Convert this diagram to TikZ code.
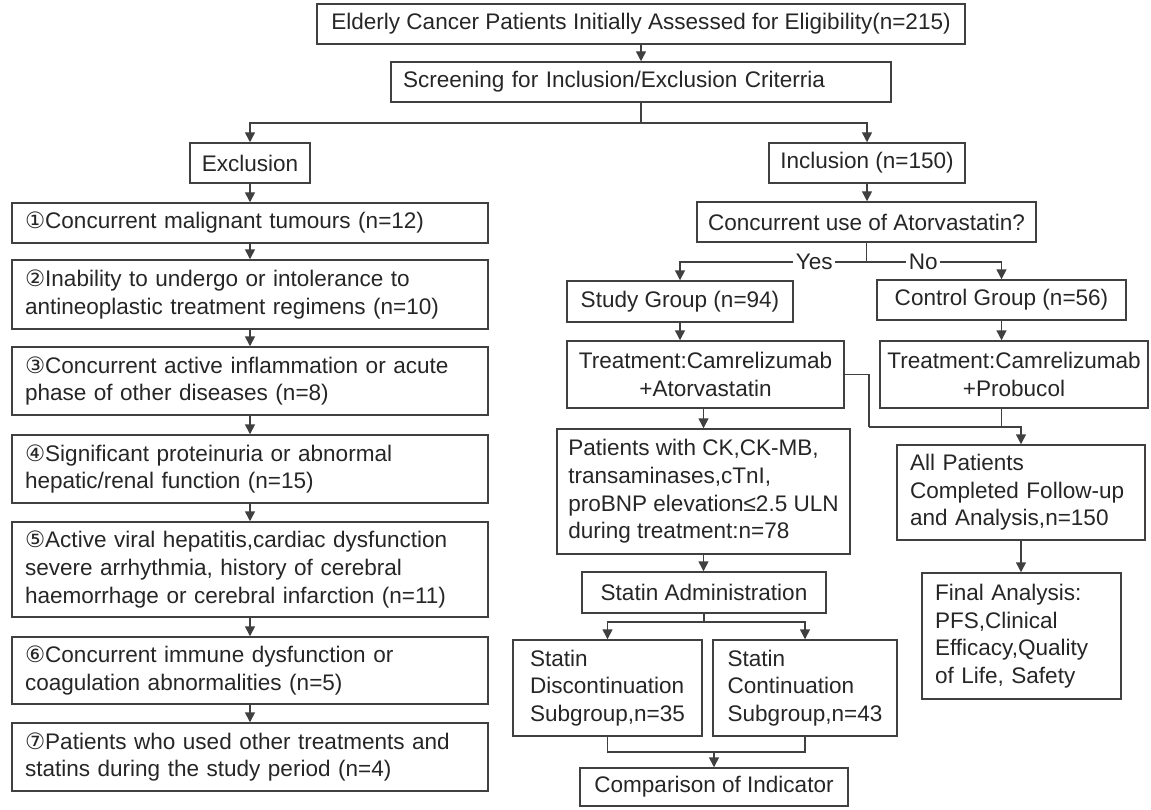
\documentclass[tikz,border=0pt]{standalone}
\usepackage{fontspec}
\setmainfont{Liberation Sans}
\newfontfamily\circfont{DejaVu Sans}
\usetikzlibrary{arrows.meta}
\newdimen\px \px=0.75pt
\newcommand{\ff}{\fontsize{16.9}{20.7}\selectfont}
\newcommand{\cn}[1]{{\circfont #1}}
\tikzstyle{box}=[draw=black!75,line width=1.1pt,inner sep=0pt,align=center,font=\ff,text=black!85]
\tikzstyle{lbox}=[box,align=left]
\tikzstyle{edge}=[draw=black!75,line width=1.1pt,-{Triangle[width=7.5pt,length=7.5pt]}]
\tikzstyle{line}=[draw=black!75,line width=1.1pt]
\tikzstyle{lbl}=[fill=white,inner sep=2pt,font=\ff,text=black!85]
\begin{document}
\begin{tikzpicture}[x=0.75pt,y=-0.75pt]
\useasboundingbox (0,0) rectangle (1151,809);
\fill[white] (0,0) rectangle (1151,809);

% top
\node[box,minimum width=648\px,minimum height=40\px] (elig) at (641,24) {Elderly Cancer Patients Initially Assessed for Eligibility(n=215)};
\node[lbox,text width=476\px,minimum width=500\px,minimum height=40\px] (screen) at (641,82) {Screening for Inclusion/Exclusion Criterria};
\draw[edge] (elig) -- (screen);

\node[box,minimum width=120\px,minimum height=40\px] (excl) at (250,163) {Exclusion};
\node[box,minimum width=196\px,minimum height=40\px] (incl) at (867,163) {Inclusion (n=150)};
\coordinate (split) at (641,123);
\draw[line] (screen) -- (split);
\draw[edge] (split) -| (excl);
\draw[edge] (split) -| (incl);

% exclusion list
\foreach \y/\h/\name/\txt in {
  223/40/ex1/{\cn{①}Concurrent malignant tumours (n=12)},
  294.5/69/ex2/{\cn{②}Inability to undergo or intolerance to\\antineoplastic treatment regimens (n=10)},
  381/68/ex3/{\cn{③}Concurrent active inflammation or acute\\phase of other diseases (n=8)},
  469/68/ex4/{\cn{④}Significant proteinuria or abnormal\\hepatic/renal function (n=15)},
  569.5/95/ex5/{\cn{⑤}Active viral hepatitis,cardiac dysfunction\\severe arrhythmia, history of cerebral\\haemorrhage or cerebral infarction (n=11)},
  670.5/67/ex6/{\cn{⑥}Concurrent immune dysfunction or\\coagulation abnormalities (n=5)},
  757/68/ex7/{\cn{⑦}Patients who used other treatments and\\statins during the study period (n=4)}}
  \node[lbox,text width=450\px,minimum width=476\px,minimum height=\h\px] (\name) at (250,\y) {\txt};

\foreach \a/\b in {excl/ex1, ex1/ex2, ex2/ex3, ex3/ex4, ex4/ex5, ex5/ex6, ex6/ex7}
  \draw[edge] (\a) -- (\b);

% inclusion branch
\node[box,minimum width=339\px,minimum height=40\px] (conc) at (866.5,222) {Concurrent use of Atorvastatin?};
\draw[edge] (incl) -- (incl |- conc.north);

\node[box,minimum width=226\px,minimum height=41\px] (study) at (680,301.5) {Study Group (n=94)};
\node[box,minimum width=249\px,minimum height=40\px] (ctrl) at (1001.5,300) {Control Group (n=56)};
\coordinate (yn) at (866.5,262);
\draw[line] (conc) -- (yn);
\draw[edge] (yn) -| node[lbl,pos=0.14] (yes) {Yes} (study);
\draw[edge] (yn) -| node[lbl,pos=0.21] (no) {No} (ctrl);

\node[box,minimum width=277\px,minimum height=67\px] (trtS) at (705.5,374.5) {Treatment:Camrelizumab\\+Atorvastatin};
\node[box,minimum width=268\px,minimum height=67\px] (trtC) at (1014,374.5) {Treatment:Camrelizumab\\+Probucol};
\draw[edge] (study) -- (study |- trtS.north);
\draw[edge] (ctrl) -- (ctrl |- trtC.north);

\node[lbox,minimum width=293\px,minimum height=125\px] (ck) at (703.5,491.5) {Patients with CK,CK-MB,\\transaminases,cTnI,\\proBNP elevation≤2.5 ULN\\during treatment:n=78};
\draw[edge] (ck.north |- trtS.south) -- (ck);

\node[lbox,text width=222\px,minimum width=248\px,minimum height=95\px] (allp) at (1021,492.5) {All Patients\\Completed Follow-up\\and Analysis,n=150};
\node[lbox,text width=173\px,minimum width=199\px,minimum height=126\px] (final) at (1021.5,636) {Final Analysis:\\PFS,Clinical\\Efficacy,Quality\\of Life, Safety};
\coordinate (mrg) at (869,427);
\draw[line] (trtS) -| (mrg);
\draw[line] (ctrl |- trtC.south) -- (ctrl |- mrg);
\draw[edge] (mrg) -| (allp);
\draw[edge] (allp) -- (allp |- final.north);

% statin subgroups
\node[box,minimum width=244\px,minimum height=41\px] (stat) at (704,592.5) {Statin Administration};
\draw[edge] (ck) -- (ck.south |- stat.north);
\node[lbox,minimum width=189\px,minimum height=96\px] (disc) at (607.5,688) {Statin\\Discontinuation\\Subgroup,n=35};
\node[lbox,minimum width=184\px,minimum height=96\px] (cont) at (805,688) {Statin\\Continuation\\Subgroup,n=43};
\node[box,minimum width=268\px,minimum height=38\px] (comp) at (714,787) {Comparison of Indicator};
\coordinate (fork) at (704,622);
\draw[line] (stat) -- (fork);
\draw[edge] (fork) -| (disc);
\draw[edge] (fork) -| (cont);
\coordinate (join) at (714,752);
\draw[line] (disc) |- (join);
\draw[line] (cont) |- (join);
\draw[edge] (join) -- (comp);

\end{tikzpicture}
\end{document}
